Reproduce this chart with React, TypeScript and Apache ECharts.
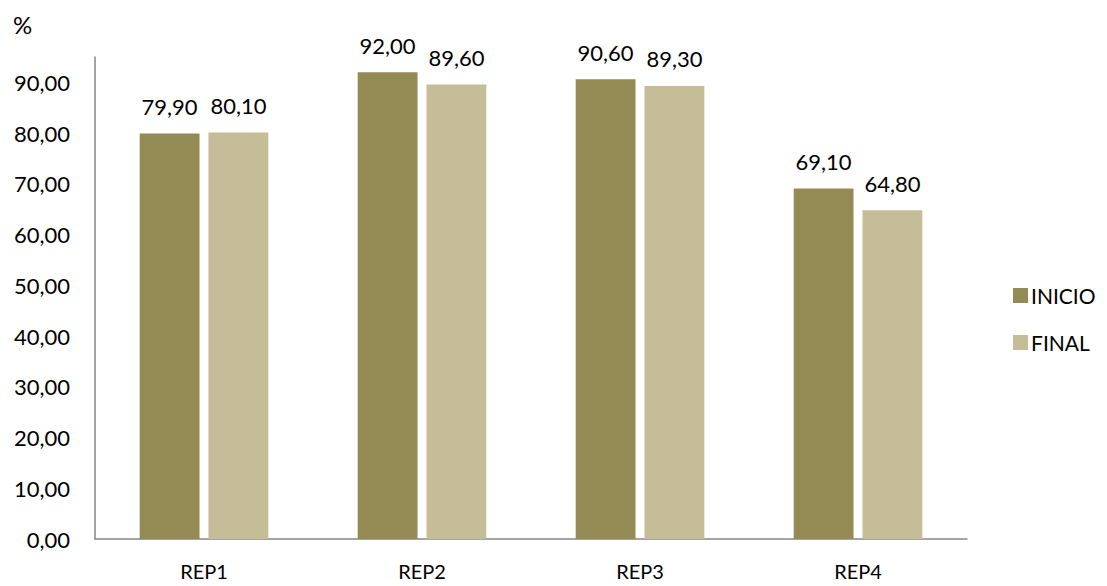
import React, { useEffect, useRef } from "react";
import * as echarts from "echarts";

const categories = ["REP1", "REP2", "REP3", "REP4"];
const inicio = [79.9, 92.0, 90.6, 69.1];
const final = [80.1, 89.6, 89.3, 64.8];
const seriesNames = ["INICIO", "FINAL"];
const yMax = 95;
const yInterval = 10;

const FONT = "Lato, 'Open Sans', sans-serif";
const fmt = (v: number) => v.toFixed(2).replace(".", ",");

export default function App() {
  const ref = useRef<HTMLDivElement>(null);

  useEffect(() => {
    document.body.style.margin = "0";
    const chart = echarts.init(ref.current!, null, { renderer: "svg" });
    const label = {
      show: true,
      position: "top" as const,
      distance: 16,
      formatter: (p: any) => fmt(p.value),
      color: "#000",
      fontSize: 22,
      fontFamily: FONT,
    };
    chart.setOption({
      animation: false,
      textStyle: { fontFamily: FONT },
      grid: { left: 95, right: 140, top: 57, bottom: 47, containLabel: false },
      legend: {
        orient: "vertical",
        left: 1008,
        top: 280,
        itemWidth: 15,
        itemHeight: 15,
        itemGap: 26,
        icon: "rect",
        textStyle: { fontSize: 21, color: "#000", fontFamily: FONT, padding: [0, 0, 0, -2] },
        data: seriesNames,
      },
      graphic: [
        {
          type: "text",
          left: 13,
          top: 12,
          style: { text: "%", fontSize: 24, fill: "#000", fontFamily: FONT },
        },
      ],
      xAxis: {
        type: "category",
        data: categories,
        axisLine: { lineStyle: { color: "#868686", width: 1.5 } },
        axisTick: { show: false },
        axisLabel: { color: "#000", fontSize: 20, margin: 22, fontFamily: FONT },
      },
      yAxis: {
        type: "value",
        min: 0,
        max: yMax,
        interval: yInterval,
        axisLine: { show: true, lineStyle: { color: "#868686", width: 1.5 } },
        axisTick: { show: false },
        splitLine: { show: false },
        axisLabel: {
          color: "#000",
          fontSize: 22,
          margin: 25,
          fontFamily: FONT,
          showMaxLabel: false,
          formatter: (v: number) => fmt(v),
        },
      },
      series: [
        {
          name: seriesNames[0],
          type: "bar",
          data: inicio,
          itemStyle: { color: "#948A54" },
          barGap: "15%",
          barCategoryGap: "41%",
          label,
        },
        {
          name: seriesNames[1],
          type: "bar",
          data: final,
          itemStyle: { color: "#C4BD97" },
          label,
        },
      ],
    });
    return () => chart.dispose();
  }, []);

  return <div ref={ref} style={{ width: 1107, height: 586 }} />;
}
